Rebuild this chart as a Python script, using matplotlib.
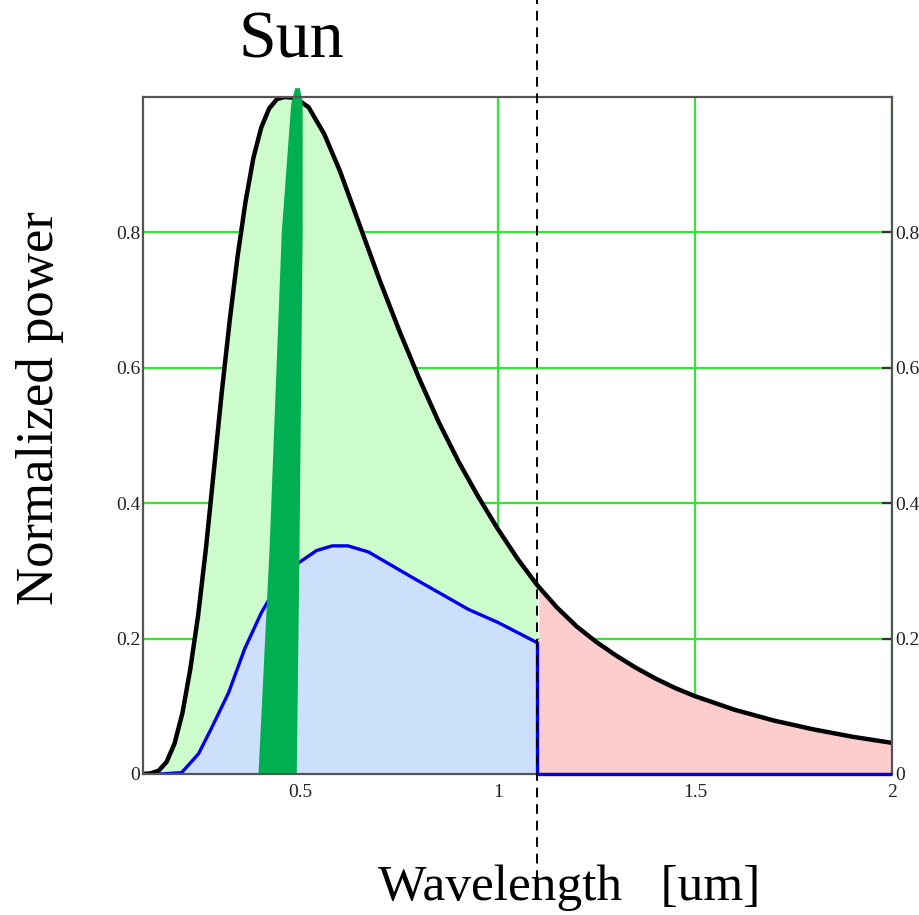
import numpy as np
from matplotlib import pyplot as plt

# black curve: normalized solar spectrum
sun_x = [0.10, 0.12, 0.14, 0.16, 0.18, 0.20, 0.22, 0.24, 0.26, 0.28,
         0.30, 0.32, 0.34, 0.36, 0.38, 0.40, 0.42, 0.44, 0.46, 0.48,
         0.50, 0.52, 0.56, 0.60, 0.65, 0.70, 0.75, 0.80, 0.85, 0.90,
         0.95, 1.00, 1.05, 1.10, 1.15, 1.20, 1.25, 1.30, 1.35, 1.40,
         1.45, 1.50, 1.60, 1.70, 1.80, 1.90, 2.00]
sun_y = [0.0, 0.001, 0.005, 0.018, 0.045, 0.09, 0.155, 0.235, 0.335, 0.45,
         0.565, 0.67, 0.765, 0.845, 0.91, 0.955, 0.983, 0.997, 1.0, 0.999,
         0.993, 0.985, 0.945, 0.89, 0.81, 0.73, 0.655, 0.585, 0.52, 0.462,
         0.41, 0.362, 0.318, 0.279, 0.246, 0.218, 0.195, 0.175, 0.157, 0.141,
         0.127, 0.115, 0.095, 0.079, 0.066, 0.055, 0.046]

# blue curve: absorbed part up to the band gap
abs_x = [0.147, 0.198, 0.241, 0.274, 0.317, 0.358, 0.40, 0.44, 0.495, 0.54,
         0.58, 0.62, 0.672, 0.79, 0.926, 1.0, 1.1]
abs_y = [0.0, 0.002, 0.03, 0.068, 0.12, 0.185, 0.238, 0.278, 0.312, 0.33,
         0.337, 0.337, 0.328, 0.288, 0.243, 0.224, 0.194]

cutoff = 1.1

# sun band shape (x, y) outline
band_x = [0.393, 0.421, 0.452, 0.476, 0.486, 0.498, 0.505, 0.505, 0.497, 0.490]
band_y = [0.0, 0.332, 0.8, 0.99, 1.013, 1.013, 0.99, 0.8, 0.332, 0.0]

x_ticks = [0.5, 1, 1.5, 2]
x_labels = ["0.5", "1", "1.5", "2"]
y_ticks = [0, 0.2, 0.4, 0.6, 0.8]
y_labels = ["0", "0.2", "0.4", "0.6", "0.8"]

SERIF = ["Liberation Serif", "DejaVu Serif"]

fig = plt.figure(figsize=(9.2, 9.15), dpi=100)
ax = fig.add_axes([143 / 920, 141 / 915, 749 / 920, 677 / 915])
ax.set_xlim(0.1, 2.0)
ax.set_ylim(0, 1.0)

xs = np.asarray(sun_x)
ys = np.asarray(sun_y)
bx = np.asarray(abs_x)
by = np.asarray(abs_y)

# fills
left = xs <= cutoff
blue_on_sun = np.interp(xs[left], bx, by, left=0.0)
ax.fill_between(xs[left], blue_on_sun, ys[left], color="#ccfccc", lw=0, zorder=2)
ax.fill_between(bx, 0, by, color="#cce0fb", lw=0, zorder=2)
right = xs >= cutoff
ax.fill_between(xs[right] + 0.004, 0, ys[right], color="#fdcccc", lw=0, zorder=2)

# curves
ax.plot(bx, by, color="#0000ee", lw=2.4, zorder=3)
ax.plot([cutoff, cutoff, 2.0], [by[-1], 0.0, 0.0], color="#0000ee", lw=2.4,
        zorder=8, clip_on=False, solid_capstyle="butt")
ax.plot(xs, ys, color="black", lw=3.2, zorder=4)

ax.fill(band_x, band_y, color="#00b050", lw=0, zorder=5, clip_on=False)

ax.plot([cutoff, cutoff], [-0.157, 1.149], color="black", lw=1.4,
        ls=(0, (5, 3.5)), zorder=9, clip_on=False)

# grid and frame
ax.set_axisbelow(True)
ax.grid(True, color="#33e633", lw=1.6)
for s in ax.spines.values():
    s.set_color("#555555")
    s.set_linewidth(1.6)
    s.set_zorder(7)

ax.set_xticks(x_ticks)
ax.set_xticklabels(x_labels)
ax.set_yticks(y_ticks)
ax.set_yticklabels(y_labels)
ax.tick_params(axis="x", length=0, pad=7, labelsize=14, labelcolor="#222222")
ax.tick_params(axis="y", left=False, right=True, labelleft=True, labelright=True,
               direction="in", length=7, width=1.6, color="#333333",
               pad=2, labelsize=14, labelcolor="#222222")
for lbl in ax.get_xticklabels() + ax.get_yticklabels():
    lbl.set_family(SERIF)

fig.text(291 / 920, 1 - 58 / 915, "Sun", family=SERIF, fontsize=49,
         ha="center", va="baseline")
fig.text(569 / 920, 1 - 900 / 915, "Wavelength   [um]", family=SERIF,
         fontsize=37, ha="center", va="baseline")
fig.text(40 / 920, 1 - 408 / 915, "Normalized power", family=SERIF,
         fontsize=38, rotation=90, ha="center", va="center")

fig.savefig("out.png", dpi=100)
